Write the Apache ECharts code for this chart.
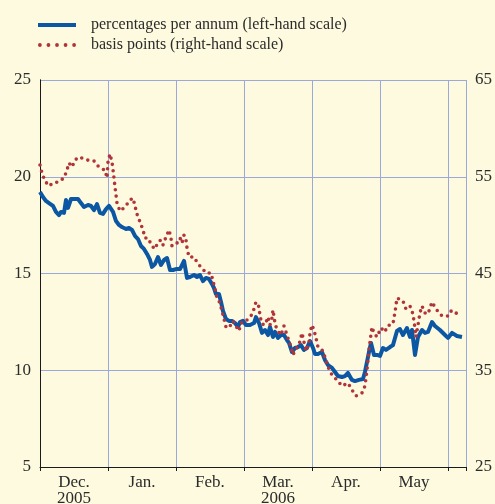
<!DOCTYPE html>
<html>
<head>
<meta charset="utf-8">
<script src="https://cdn.jsdelivr.net/npm/echarts@6/dist/echarts.min.js"></script>
<style>
html,body{margin:0;padding:0;background:#fefadf;}
#chart{width:495px;height:504px;}
</style>
</head>
<body>
<div id="chart"></div>
<script>
// Month labels (centred in each month band); x unit = months since 1 Dec 2005
var monthLabels = ['Dec.', 'Jan.', 'Feb.', 'Mar.', 'Apr.', 'May'];
var yearLabels = ['2005', '', '', '2006', '', ''];
var leftTicks = [5, 10, 15, 20, 25];
var rightTicks = [25, 35, 45, 55, 65];

// percentages per annum (left-hand scale)
var pctX = [0,0.044,0.088,0.132,0.191,0.235,0.279,0.309,0.353,0.382,0.412,0.456,0.5,0.559,0.603,0.647,0.706,0.75,0.794,0.838,0.882,0.926,0.971,1.015,1.044,1.074,1.118,1.162,1.206,1.265,1.309,1.353,1.397,1.441,1.485,1.529,1.574,1.618,1.647,1.691,1.735,1.779,1.824,1.868,1.912,1.956,2.0,2.059,2.118,2.162,2.206,2.265,2.309,2.353,2.397,2.441,2.485,2.529,2.559,2.588,2.632,2.662,2.691,2.735,2.779,2.824,2.868,2.912,2.941,2.985,3.029,3.088,3.147,3.176,3.221,3.265,3.309,3.353,3.382,3.426,3.456,3.5,3.544,3.588,3.632,3.662,3.706,3.75,3.794,3.838,3.882,3.926,3.971,4.015,4.044,4.088,4.147,4.191,4.235,4.294,4.338,4.382,4.441,4.485,4.529,4.588,4.632,4.691,4.75,4.779,4.809,4.838,4.868,4.912,4.956,5.0,5.044,5.088,5.147,5.191,5.25,5.294,5.338,5.397,5.441,5.471,5.515,5.559,5.618,5.662,5.706,5.765,5.809,5.882,5.956,6.0,6.059,6.132,6.206];
var pctY = [19.21,18.95,18.75,18.64,18.49,18.18,18.02,18.18,18.13,18.80,18.39,18.85,18.85,18.85,18.64,18.44,18.54,18.49,18.28,18.59,18.13,18.08,18.33,18.49,18.44,18.18,17.71,17.51,17.40,17.30,17.35,17.25,16.94,16.78,16.42,16.27,16.01,15.70,15.34,15.49,15.85,15.44,15.70,15.80,15.18,15.18,15.23,15.23,15.65,14.77,14.82,14.92,14.82,14.92,14.61,14.77,14.72,14.46,14.25,13.94,13.94,13.53,13.06,12.65,12.55,12.55,12.44,12.24,12.49,12.55,12.34,12.34,12.44,12.75,12.44,11.93,12.08,11.82,12.24,11.72,11.98,11.67,11.82,11.82,11.56,11.41,10.94,11.15,11.20,11.30,11.05,11.15,11.51,11.15,10.84,10.84,10.94,10.53,10.27,10.12,9.91,9.70,9.65,9.70,9.86,9.50,9.44,9.50,9.55,9.91,10.43,10.94,11.41,10.79,10.79,10.74,11.15,11.05,11.20,11.30,12.03,12.13,11.82,12.18,11.72,12.08,10.79,11.72,12.08,11.93,11.98,12.49,12.29,12.08,11.82,11.67,11.93,11.77,11.72];

// basis points (right-hand scale)
var bpX = [0,0.029,0.074,0.132,0.191,0.265,0.353,0.397,0.426,0.471,0.515,0.574,0.691,0.794,0.853,0.912,0.956,0.985,1.0,1.029,1.059,1.074,1.088,1.103,1.118,1.132,1.176,1.25,1.324,1.368,1.397,1.426,1.471,1.515,1.544,1.588,1.647,1.691,1.735,1.779,1.809,1.853,1.897,1.926,1.941,2.015,2.059,2.088,2.118,2.147,2.162,2.191,2.265,2.324,2.382,2.441,2.515,2.544,2.574,2.603,2.647,2.676,2.706,2.735,2.779,2.838,2.882,2.926,2.956,3.015,3.103,3.147,3.176,3.221,3.235,3.265,3.309,3.353,3.382,3.412,3.426,3.456,3.485,3.544,3.588,3.647,3.691,3.721,3.75,3.809,3.853,3.882,3.912,3.956,3.971,4.0,4.029,4.059,4.088,4.162,4.235,4.294,4.368,4.441,4.529,4.588,4.647,4.735,4.779,4.809,4.838,4.868,4.882,4.912,4.956,4.985,5.015,5.074,5.103,5.147,5.191,5.221,5.25,5.338,5.382,5.441,5.485,5.515,5.529,5.559,5.588,5.618,5.662,5.706,5.735,5.765,5.824,5.912,6.0,6.044,6.103,6.191];
var bpY = [56.21,55.39,54.56,54.04,54.35,54.46,54.87,55.70,56.42,56.01,56.73,57.04,56.73,56.63,56.11,55.80,55.70,54.87,56.52,57.35,56.52,55.70,54.87,53.94,53.11,52.29,51.46,51.87,52.60,52.80,51.98,51.15,50.32,49.50,48.67,48.67,47.84,47.53,48.26,48.46,47.95,48.77,49.50,48.67,47.84,48.15,48.67,48.15,48.98,48.46,47.64,46.71,46.71,45.98,45.57,45.05,45.05,44.22,43.40,42.47,41.95,41.12,40.30,39.47,39.37,40.09,39.57,39.06,39.88,39.99,40.61,41.33,42.05,41.54,40.61,39.78,39.68,40.50,39.68,40.40,41.23,39.88,39.16,38.64,39.57,38.33,37.40,36.58,37.09,37.61,38.85,37.92,36.99,37.82,38.85,39.68,39.16,38.33,37.40,36.99,35.34,34.51,33.99,33.37,33.68,32.96,32.34,32.65,33.37,35.03,37.09,38.75,39.47,38.85,38.44,38.64,39.37,38.95,39.57,39.68,39.78,41.02,42.47,42.16,41.33,41.64,40.81,39.37,38.44,39.68,40.92,41.64,40.92,40.81,41.43,42.05,41.33,40.61,40.61,41.12,40.81,41.23];

function pairs(xs, ys) { return xs.map(function (x, i) { return [x, ys[i]]; }); }

var FONT = 'Liberation Serif';
var TXT = '#2b2b2b';
var GRIDC = '#9aaad8';
var XMAX = 6.265;
var BLUE = '#0b57a4';
var RED = '#b0343a';
var NAME1 = 'percentages per annum (left-hand scale)';
var NAME2 = 'basis points (right-hand scale)';

var chart = echarts.init(document.getElementById('chart'), null, {renderer: 'canvas'});
chart.setOption({
  backgroundColor: '#fefadf',
  animation: false,
  textStyle: {fontFamily: FONT},
  legend: {
    orient: 'vertical',
    left: 38,
    top: 17,
    padding: 0,
    itemWidth: 38,
    itemHeight: 4,
    itemGap: 4,
    textStyle: {fontFamily: FONT, fontSize: 16, color: TXT, padding: [0, 0, 0, 10], lineHeight: 16},
    data: [
      {name: NAME1, icon: 'path://M0,0H38V4H0Z'},
      {name: NAME2, icon: 'path://M0,2a1.9,1.9 0 1,0 3.8,0a1.9,1.9 0 1,0 -3.8,0M8.55,2a1.9,1.9 0 1,0 3.8,0a1.9,1.9 0 1,0 -3.8,0M17.1,2a1.9,1.9 0 1,0 3.8,0a1.9,1.9 0 1,0 -3.8,0M25.65,2a1.9,1.9 0 1,0 3.8,0a1.9,1.9 0 1,0 -3.8,0M34.2,2a1.9,1.9 0 1,0 3.8,0a1.9,1.9 0 1,0 -3.8,0Z'}
    ]
  },
  grid: {left: 40, right: 29, top: 80, bottom: 37, containLabel: false, outerBoundsMode: 'none'},
  xAxis: [
    {
      type: 'value', min: 0, max: XMAX, interval: 1,
      axisLine: {show: true, lineStyle: {color: '#1a1a1a', width: 1}},
      axisTick: {show: true, length: 4, lineStyle: {color: '#1a1a1a'}},
      axisLabel: {show: false},
      splitLine: {show: true, lineStyle: {color: GRIDC, width: 1}}
    },
    {
      type: 'value', min: 0, max: XMAX, interval: 0.5, position: 'bottom',
      axisLine: {show: false}, axisTick: {show: false}, splitLine: {show: false},
      axisLabel: {
        show: true, margin: 8, fontFamily: FONT, fontSize: 17, color: TXT, lineHeight: 16,
        showMinLabel: true, showMaxLabel: true,
        formatter: function (v) {
          var i = Math.round(v - 0.5);
          if (Math.abs(v - i - 0.5) < 1e-6 && i >= 0 && i < monthLabels.length) {
            return yearLabels[i] ? monthLabels[i] + '\n' + yearLabels[i] : monthLabels[i];
          }
          return '';
        }
      }
    }
  ],
  yAxis: [
    {
      type: 'value', min: leftTicks[0], max: leftTicks[leftTicks.length - 1], interval: 5, position: 'left',
      axisLine: {show: true, lineStyle: {color: '#1a1a1a', width: 1}},
      axisTick: {show: false},
      axisLabel: {margin: 9, fontFamily: FONT, fontSize: 17, color: TXT},
      splitLine: {show: true, lineStyle: {color: GRIDC, width: 1}}
    },
    {
      type: 'value', min: rightTicks[0], max: rightTicks[rightTicks.length - 1], interval: 10, position: 'right',
      axisLine: {show: true, lineStyle: {color: '#1a1a1a', width: 1}},
      axisTick: {show: false},
      axisLabel: {margin: 9, fontFamily: FONT, fontSize: 17, color: TXT},
      splitLine: {show: false}
    }
  ],
  series: [
    {
      name: NAME1,
      type: 'line', xAxisIndex: 0, yAxisIndex: 0,
      symbol: 'none', smooth: false,
      lineStyle: {color: BLUE, width: 4, join: 'round'},
      itemStyle: {color: BLUE},
      data: pairs(pctX, pctY), z: 3
    },
    {
      name: NAME2,
      type: 'line', xAxisIndex: 0, yAxisIndex: 1,
      symbol: 'none', smooth: false,
      lineStyle: {color: RED, width: 3.6, type: [0, 6.4], cap: 'round'},
      itemStyle: {color: RED},
      data: pairs(bpX, bpY), z: 4
    }
  ]
});
</script>
</body>
</html>
